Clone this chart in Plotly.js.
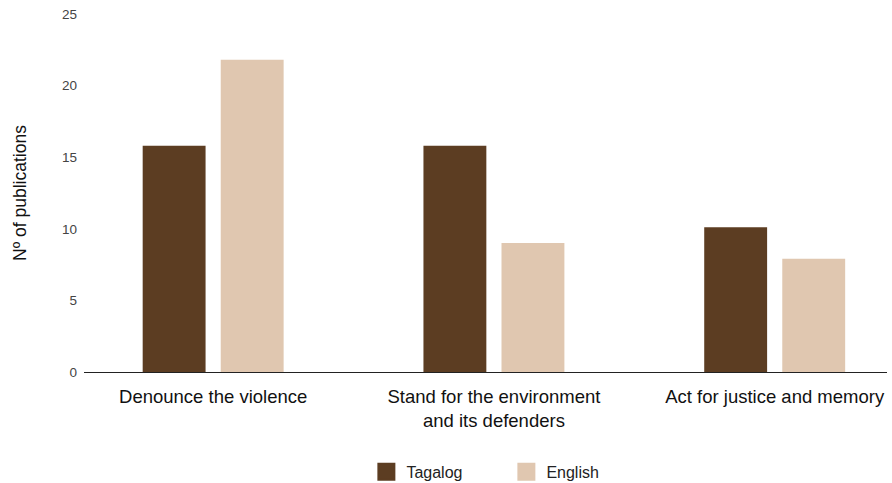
<!DOCTYPE html>
<html>
<head>
<meta charset="utf-8">
<script src="https://cdn.plot.ly/plotly-3.0.1.min.js"></script>
<style>html,body{margin:0;padding:0;background:#fff}#chart{width:892px;height:483px}</style>
</head>
<body>
<div id="chart"></div>
<script>
const categories = ["Denounce the violence", "Stand for the environment<br>and its defenders", "Act for justice and memory"];
const seriesNames = ["Tagalog", "English"];
const tagalog = [15.8, 15.8, 10.1];
const english = [21.8, 9.0, 7.9];
const yTicks = [0, 5, 10, 15, 20, 25];

const colors = ["#5C3D22", "#E0C7B0"];
const idx = categories.map((c, i) => i);
const font = "'Liberation Sans', Arial, Helvetica, sans-serif";

const barW = 0.224;
const traces = [
  {type: "bar", x: idx, y: tagalog, name: seriesNames[0], width: barW, offset: -0.251,
   marker: {color: colors[0]}, showlegend: false, hoverinfo: "y"},
  {type: "bar", x: idx, y: english, name: seriesNames[1], width: barW, offset: 0.027,
   marker: {color: colors[1]}, showlegend: false, hoverinfo: "y"},
  {type: "scatter", mode: "markers", x: [null], y: [null], name: seriesNames[0],
   marker: {symbol: "square", size: 16, color: colors[0], line: {width: 2, color: colors[0]}}},
  {type: "scatter", mode: "markers", x: [null], y: [null], name: seriesNames[1],
   marker: {symbol: "square", size: 16, color: colors[1], line: {width: 2, color: colors[1]}}}
];

const layout = {
  width: 892, height: 483,
  margin: {l: 84, r: 5, t: 13.5, b: 111},
  paper_bgcolor: "#fff", plot_bgcolor: "#fff",
  barmode: "overlay",
  font: {family: font, color: "#111"},
  xaxis: {
    range: [-0.46, 2.40], tickmode: "array", tickvals: idx, ticktext: categories,
    showgrid: false, zeroline: false, showline: true, linecolor: "#222", linewidth: 1,
    ticks: "", tickfont: {size: 18.5, color: "#111"}, ticklabelstandoff: 8,
    automargin: false, fixedrange: true
  },
  yaxis: {
    range: [0, 25], tickmode: "array", tickvals: yTicks, ticktext: yTicks.map(String),
    showgrid: false, zeroline: false, showline: false, ticks: "",
    tickfont: {size: 13.5, color: "#444"}, ticklabelstandoff: 6,
    title: {text: "Nº of publications", font: {size: 17.5, color: "#111"}, standoff: 30},
    automargin: false, fixedrange: true
  },
  legend: {orientation: "h", x: 0.526, xanchor: "center", yref: "container", y: 0.023, yanchor: "middle",
    font: {size: 16, color: "#222"}, itemwidth: 30, entrywidth: 95, entrywidthmode: "pixels",
    tracegroupgap: 0, traceorder: "normal"},
  showlegend: true
};

Plotly.newPlot("chart", traces, layout, {displayModeBar: false, staticPlot: true});
</script>
</body>
</html>
